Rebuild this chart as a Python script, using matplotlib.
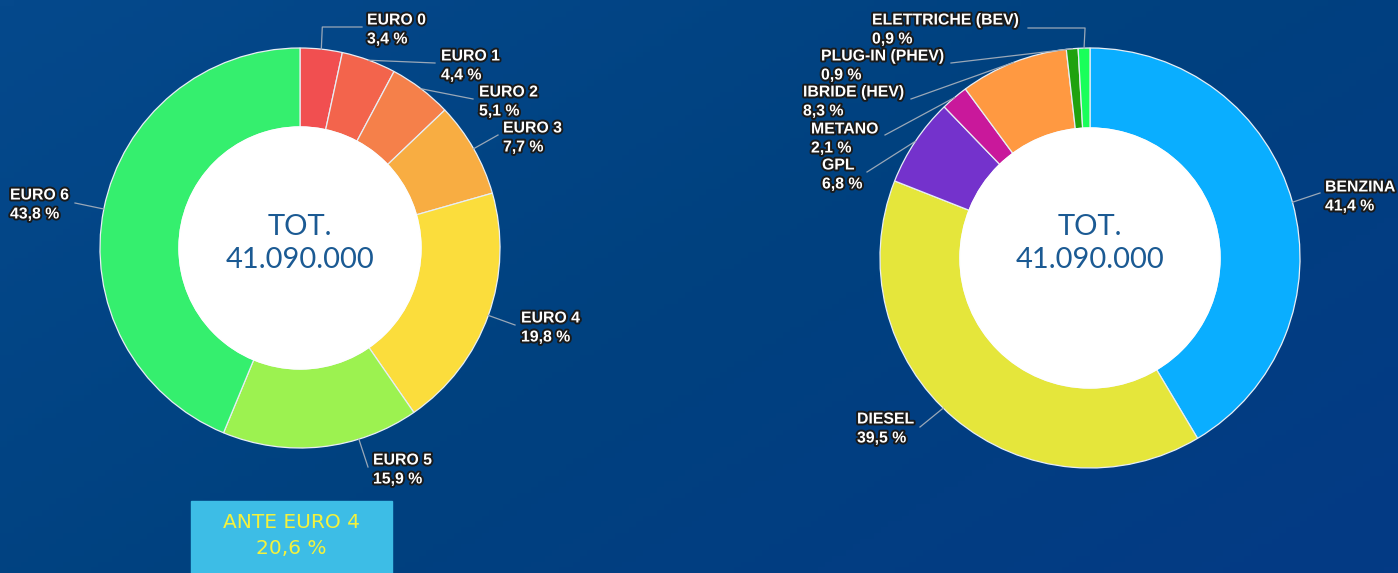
import numpy as np
import matplotlib
matplotlib.use("Agg")
import matplotlib.pyplot as plt
import matplotlib.patheffects as pe
from matplotlib.colors import LinearSegmentedColormap

W, H = 1398, 573

# left donut: Euro classes
euro_labels = ["EURO 0", "EURO 1", "EURO 2", "EURO 3", "EURO 4", "EURO 5", "EURO 6"]
euro_values = [3.4, 4.4, 5.1, 7.7, 19.8, 15.9, 43.8]
euro_colors = ["#f14f50", "#f3644c", "#f5804a", "#f8ad42", "#fbdd3c", "#9cf250", "#35ef6e"]

# right donut: fuel type
fuel_labels = ["BENZINA", "DIESEL", "GPL", "METANO", "IBRIDE (HEV)", "PLUG-IN (PHEV)", "ELETTRICHE (BEV)"]
fuel_values = [41.4, 39.5, 6.8, 2.1, 8.3, 0.9, 0.9]
fuel_colors = ["#0aaeff", "#e5e63b", "#7432cc", "#c9189b", "#ff9941", "#1fa20f", "#19ff5a"]

total_text = "41.090.000"
box_title = "ANTE EURO 4"
box_value = "20,6 %"

# label layout in pixels: (text x, text top y, line end x, line end y, elbow, anchor shift deg)
euro_layout = [
    (367, 19, 362, 27, True, 0),
    (441, 55, 435, 63, False, 0),
    (479, 91, 473, 99, False, 0),
    (503, 127, 498, 135, False, 0),
    (521, 317, 515, 325, False, 0),
    (373, 459, 368, 467, False, -11),
    (10, 194, 75, 203, False, 0),
]
fuel_layout = [
    (1325, 186, 1320, 193, False, 0),
    (857, 418, 920, 427, False, 4),
    (822, 164, 867, 172, False, 0),
    (811, 128, 885, 135, False, 0),
    (803, 91, 911, 99, False, 0),
    (821, 55, 951, 63, False, 0),
    (872, 19, 1028, 28, True, 0),
]


def fy(y):
    return H - y


fig = plt.figure(figsize=(W / 100, H / 100), dpi=100)
ax = fig.add_axes([0, 0, 1, 1])

# background gradient
bg = LinearSegmentedColormap.from_list("bg", ["#05498c", "#00417f", "#043a85"])
gx, gy = np.meshgrid(np.linspace(0, 1, 200), np.linspace(0, 1, 100))
ax.imshow((gx * 0.6 + gy * 0.4), cmap=bg, extent=[0, W, 0, H], aspect="auto", zorder=0)

label_fx = [pe.withStroke(linewidth=2.8, foreground="#1a1a1a")]
label_font = ["Liberation Sans", "DejaVu Sans"]


def donut(values, labels, colors, layout, cx, cy, r, r_in):
    ax.pie(values, colors=colors, startangle=90, counterclock=False,
           radius=r, center=(cx, fy(cy)), frame=True,
           wedgeprops=dict(width=r - r_in, edgecolor="#e8eef5", linewidth=0.9))
    ax.add_patch(plt.Circle((cx, fy(cy)), r_in, color="white", zorder=3))
    total = sum(values)
    cum = 0
    for v, lab, (tx, ty, lx, ly, elbow, shift) in zip(values, labels, layout):
        mid = (cum + v / 2) / total * 2 * np.pi + np.radians(shift)
        cum += v
        sx = cx + r * np.sin(mid)
        sy = cy - r * np.cos(mid)
        if elbow:
            xs, ys = [sx, sx + 1, lx], [sy, ly, ly]
        else:
            xs, ys = [sx, lx], [sy, ly]
        ax.plot(xs, [fy(y) for y in ys], color="#9aa8b8", lw=0.9, zorder=4)
        pct = f"{v:.1f}".replace(".", ",") + " %"
        ax.text(tx, fy(ty + 1), lab, color="white", fontsize=11.4, fontweight="bold",
                family=label_font, va="center", ha="left",
                path_effects=label_fx, zorder=5)
        ax.text(tx, fy(ty + 20), pct, color="white", fontsize=11.4, fontweight="bold",
                family=label_font, va="center", ha="left",
                path_effects=label_fx, zorder=5)
    ax.text(cx, fy(227), "TOT.", color="#1b5a93", fontsize=21, ha="center", va="center",
            family=["Lato", "DejaVu Sans"], zorder=5)
    ax.text(cx, fy(260), total_text, color="#1b5a93", fontsize=21, ha="center", va="center",
            family=["Lato", "DejaVu Sans"], zorder=5)


donut(euro_values, euro_labels, euro_colors, euro_layout, 300, 248, 200, 121)
donut(fuel_values, fuel_labels, fuel_colors, fuel_layout, 1090, 258, 210, 130)

# ante euro 4 box
ax.add_patch(plt.Rectangle((191, 0), 201, fy(501), color="#3dbde6", zorder=3))
ax.text(291.5, fy(522), box_title, color="#f4f23c", fontsize=14.5, ha="center", va="center",
        family=["DejaVu Sans"], zorder=5)
ax.text(291.5, fy(549), box_value, color="#f4f23c", fontsize=14.5, ha="center", va="center",
        family=["DejaVu Sans"], zorder=5)

ax.set_xlim(0, W)
ax.set_ylim(0, H)
ax.set_aspect("auto")
ax.axis("off")

fig.savefig("out.png", dpi=100)
